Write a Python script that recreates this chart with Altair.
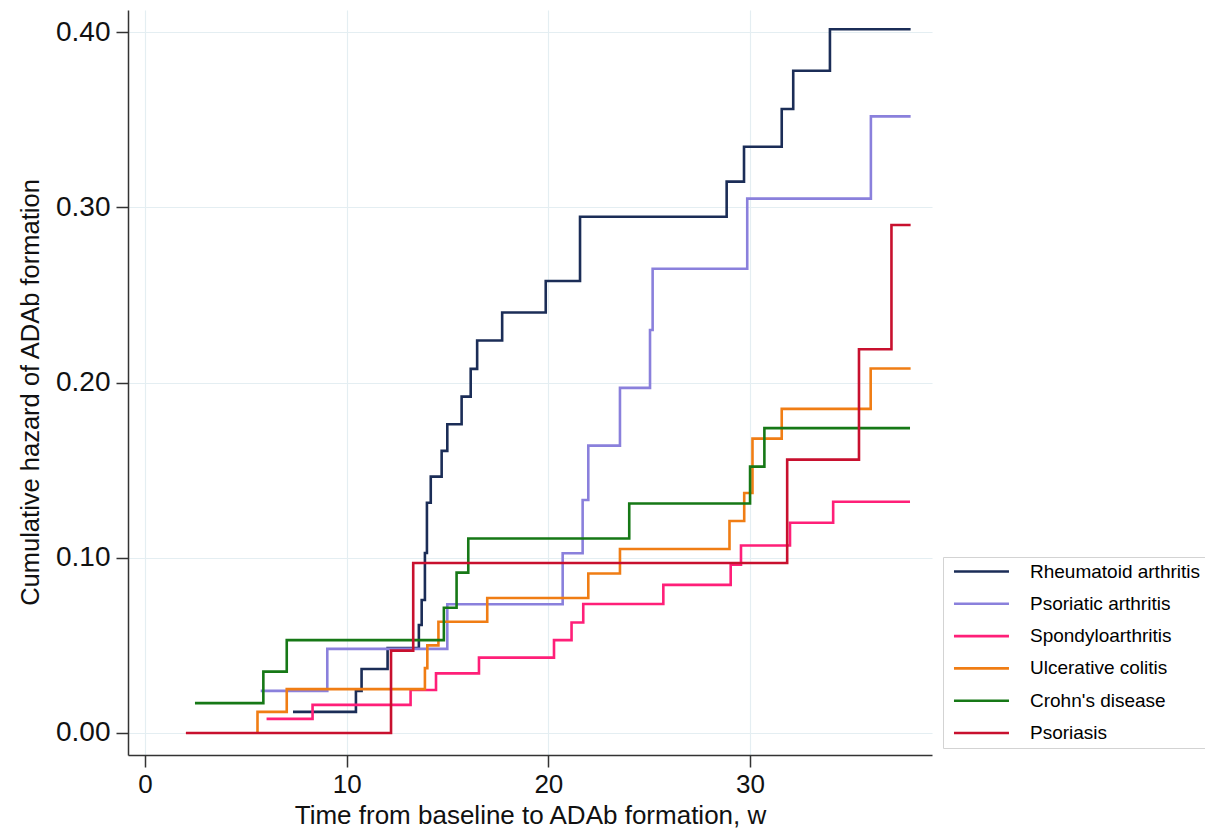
import altair as alt
import pandas as pd

series_names = ["Rheumatoid arthritis", "Psoriatic arthritis", "Spondyloarthritis",
                "Ulcerative colitis", "Crohn's disease", "Psoriasis"]
series_colors = ["#1b2d57", "#8a80dc", "#ff1f78", "#f07d14", "#167816", "#c8102e"]

ra_t = [7.34, 10.46, 10.74, 12.03, 13.58, 13.72, 13.88, 13.98, 14.17, 14.71, 14.99, 15.70,
        16.15, 16.47, 17.71, 19.87, 21.57, 28.84, 29.70, 31.57, 32.14, 33.96, 37.96]
ra_y = [0.012, 0.024, 0.0365, 0.0485, 0.0616, 0.0759, 0.1027, 0.1314, 0.1463, 0.161, 0.1762,
        0.192, 0.2078, 0.224, 0.240, 0.258, 0.2947, 0.3147, 0.3346, 0.3562, 0.378, 0.4017, 0.4017]

psa_t = [5.74, 9.04, 14.99, 20.71, 21.70, 21.98, 23.55, 25.04, 25.17, 29.86, 35.99, 37.96]
psa_y = [0.024, 0.048, 0.0735, 0.1026, 0.133, 0.164, 0.197, 0.230, 0.265, 0.305, 0.352, 0.352]

spa_t = [6.03, 8.31, 13.17, 14.43, 16.56, 20.28, 21.15, 21.73, 25.70, 29.04, 29.55, 31.98, 34.12, 37.93]
spa_y = [0.008, 0.016, 0.0245, 0.034, 0.043, 0.053, 0.063, 0.0736, 0.0845, 0.096, 0.107, 0.120, 0.132, 0.132]

uc_t = [5.58, 5.58, 7.03, 13.88, 14.0, 14.55, 16.97, 21.98, 23.55, 28.98, 29.71, 30.12, 31.57, 35.98, 37.96]
uc_y = [0.0, 0.012, 0.025, 0.037, 0.050, 0.0635, 0.077, 0.091, 0.105, 0.121, 0.137, 0.168, 0.185, 0.208, 0.208]

cd_t = [2.48, 5.87, 7.03, 14.82, 15.45, 16.03, 24.01, 30.0, 30.71, 37.93]
cd_y = [0.017, 0.035, 0.053, 0.0715, 0.0915, 0.111, 0.131, 0.152, 0.174, 0.174]

ps_t = [2.03, 12.2, 13.3, 31.84, 35.4, 37.01, 37.96]
ps_y = [0.0, 0.047, 0.097, 0.156, 0.219, 0.290, 0.290]

x_ticks = [0, 10, 20, 30]
y_ticks = [0.0, 0.1, 0.2, 0.3, 0.4]

rows = []
for name, ts, ys in zip(series_names,
                        [ra_t, psa_t, spa_t, uc_t, cd_t, ps_t],
                        [ra_y, psa_y, spa_y, uc_y, cd_y, ps_y]):
    for i, (t, y) in enumerate(zip(ts, ys)):
        rows.append({"series": name, "time": t, "hazard": y, "idx": i})
df = pd.DataFrame(rows)

FONT = "Liberation Sans, Arial, sans-serif"

chart = alt.Chart(df).mark_line(interpolate="step-after", strokeWidth=2.6).encode(
    x=alt.X("time:Q",
            scale=alt.Scale(domain=[-0.84, 39.02], nice=False, zero=False),
            axis=alt.Axis(values=x_ticks, title="Time from baseline to ADAb formation, w",
                          labelFontSize=26, titleFontSize=26, labelPadding=4,
                          titleX=402, titleY=60, titleBaseline="middle", titleAlign="center")),
    y=alt.Y("hazard:Q",
            scale=alt.Scale(domain=[-0.0126, 0.4127], nice=False, zero=False),
            axis=alt.Axis(values=y_ticks, format=".2f", title="Cumulative hazard of ADAb formation",
                          labelFontSize=28, titleFontSize=25.5, labelPadding=6,
                          titleX=-98, titleY=382, titleBaseline="middle", titleAlign="center",
                          titleAngle=270)),
    color=alt.Color("series:N",
                    scale=alt.Scale(domain=series_names, range=series_colors),
                    sort=series_names,
                    legend=alt.Legend(title=None, orient="none", legendX=815, legendY=547,
                                      symbolType="M-0.64,0H9.36", symbolSize=121,
                                      symbolStrokeWidth=2.6,
                                      labelFontSize=19, labelFont=FONT, labelOffset=63,
                                      rowPadding=12.3, padding=5,
                                      strokeColor="#d3d3d3", fillColor="white",
                                      labelLimit=400)),
    order=alt.Order("idx:Q"),
    detail="series:N",
).properties(
    width=804, height=745,
    autosize=alt.AutoSizeParams(type="none"),
    padding={"left": 128, "top": 10, "right": 273, "bottom": 77},
    background="white",
).configure_view(stroke=None).configure_axis(
    labelFont=FONT, titleFont=FONT, labelColor="#111", titleColor="#111",
    titleFontWeight="normal",
    domainColor="#333", domainWidth=1.5, tickColor="#333", tickWidth=1.5, tickSize=12,
    gridColor="#e4eef2", gridWidth=1.2,
)

chart.save("out.html", embed_options={"renderer": "svg", "actions": False})
